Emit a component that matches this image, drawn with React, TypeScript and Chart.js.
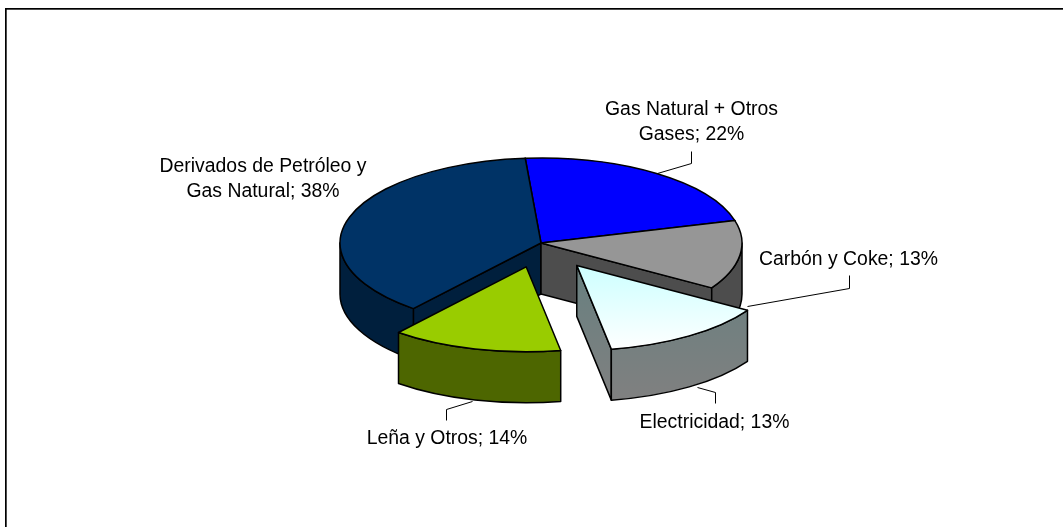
import React, { useEffect, useRef } from "react";
import { Chart, registerables } from "chart.js";

Chart.register(...registerables);

const categories = ["Gas Natural + Otros Gases", "Carbón y Coke", "Electricidad", "Leña y Otros", "Derivados de Petróleo y Gas Natural"];
const shares = [22, 13.1, 13.4, 13.7, 37.8];
const shownPercent = [22, 13, 13, 14, 38];
const topColors = ["#0000ff", "#969696", "#ccffff", "#99cc00", "#003366"];
const wallColors = ["#000080", "#4d4d4d", "#6b8080", "#4d6600", "#001f3d"];
const explode = [0, 0, 0.318, 0.29, 0];
const paintOrder = [0, 4, 1, 3, 2];

const PIE = { cx: 541, cy: 243, rx: 201, ry: 85, depth: 51 };
const FONT = '19.4px "Liberation Sans", Arial, sans-serif';
const LINE_H = 25.5;
const WRAP = 215;

const labelAnchors = [
  { x: 691.5, y: 109.5 },
  { x: 848.5, y: 259.5 },
  { x: 714.5, y: 422.5 },
  { x: 447, y: 438.5 },
  { x: 263, y: 166.5 },
];
const leaders: number[][][] = [
  [[691, 151], [691, 163], [657, 173]],
  [[849, 275], [849, 288], [747, 306]],
  [[715, 403], [715, 392], [697, 387]],
  [[446, 420], [446, 409], [472, 401]],
];

function wrapText(ctx: CanvasRenderingContext2D, text: string) {
  const lines: string[] = [];
  let cur = "";
  for (const w of text.split(" ")) {
    const t = cur ? cur + " " + w : w;
    if (ctx.measureText(t).width > WRAP && cur) {
      lines.push(cur);
      cur = w;
    } else cur = t;
  }
  lines.push(cur);
  return lines;
}

const pie3d = {
  id: "pie3d",
  beforeDatasetsDraw(chart: any) {
    const ctx: CanvasRenderingContext2D = chart.ctx;
    const arcs = chart.getDatasetMeta(0).data;
    const { cx, cy, rx, ry, depth } = PIE;

    ctx.fillStyle = "#000";
    ctx.fillRect(5, 8, 1058, 1.7);
    ctx.fillRect(5, 8, 1.7, 519);

    ctx.lineJoin = "round";
    for (const i of paintOrder) {
      const el = arcs[i];
      const a = el.startAngle;
      const b = el.endAngle;
      const mid = (a + b) / 2;
      const x0 = cx + Math.cos(mid) * explode[i] * rx;
      const y0 = cy + Math.sin(mid) * explode[i] * ry;
      const px = (t: number) => x0 + Math.cos(t) * rx;
      const py = (t: number) => y0 + Math.sin(t) * ry;

      let wall: any = wallColors[i];
      if (i === 2) {
        const g = ctx.createLinearGradient(0, y0 + 20, 0, y0 + 135);
        g.addColorStop(0, "#6b8080");
        g.addColorStop(1, "#808080");
        wall = g;
      }
      ctx.fillStyle = wall;
      ctx.strokeStyle = "#000";
      ctx.lineWidth = 1.5;

      // cut faces that look towards the viewer
      for (const [edge, normal] of [[a, a - Math.PI / 2], [b, b + Math.PI / 2]]) {
        if (Math.sin(normal) <= 0) continue;
        ctx.beginPath();
        ctx.moveTo(x0, y0);
        ctx.lineTo(px(edge), py(edge));
        ctx.lineTo(px(edge), py(edge) + depth);
        ctx.lineTo(x0, y0 + depth);
        ctx.closePath();
        ctx.fill();
        ctx.stroke();
      }

      // outer wall: only the part of the rim on the near side
      for (const k of [0, 2]) {
        const s = Math.max(a, k * Math.PI);
        const e = Math.min(b, k * Math.PI + Math.PI);
        if (e <= s) continue;
        ctx.beginPath();
        ctx.ellipse(x0, y0, rx, ry, 0, s, e);
        ctx.ellipse(x0, y0 + depth, rx, ry, 0, e, s, true);
        ctx.closePath();
        ctx.fill();
        ctx.stroke();
      }

      // top face: the library's own arc element, flattened into the ellipse
      ctx.save();
      ctx.translate(x0, y0);
      ctx.scale(rx / el.outerRadius, ry / el.outerRadius);
      ctx.translate(-el.x, -el.y);
      el.draw(ctx);
      ctx.restore();

      ctx.beginPath();
      ctx.moveTo(x0, y0);
      ctx.ellipse(x0, y0, rx, ry, 0, a, b);
      ctx.closePath();
      ctx.stroke();
    }

    // leader lines
    ctx.strokeStyle = "#000";
    ctx.lineWidth = 1;
    for (const pts of leaders) {
      ctx.beginPath();
      pts.forEach(([x, y], n) => (n ? ctx.lineTo(x + 0.5, y + 0.5) : ctx.moveTo(x + 0.5, y + 0.5)));
      ctx.stroke();
    }

    // labels
    ctx.fillStyle = "#000";
    ctx.font = FONT;
    ctx.textAlign = "center";
    ctx.textBaseline = "middle";
    categories.forEach((name, i) => {
      const lines = wrapText(ctx, `${name}; ${shownPercent[i]}%`);
      lines.forEach((line, n) => ctx.fillText(line, labelAnchors[i].x, labelAnchors[i].y + n * LINE_H));
    });
    return false;
  },
};

export default function App() {
  const ref = useRef<HTMLCanvasElement>(null);
  useEffect(() => {
    const chart = new Chart(ref.current!, {
      type: "pie",
      data: {
        labels: categories,
        datasets: [
          {
            data: shares,
            borderWidth: 0,
            backgroundColor: (c: any) => {
              if (c.dataIndex !== 2) return topColors[c.dataIndex];
              const h = c.chart.height;
              const g = c.chart.ctx.createLinearGradient(0, h / 2, 0, h);
              g.addColorStop(0, "#ccffff");
              g.addColorStop(1, "#ffffff");
              return g;
            },
          },
        ],
      },
      options: {
        responsive: false,
        animation: false,
        rotation: -4.5,
        layout: { padding: 0 },
        plugins: { legend: { display: false }, tooltip: { enabled: false }, title: { display: false } },
      },
      plugins: [pie3d],
    } as any);
    return () => chart.destroy();
  }, []);
  return (
    <div style={{ position: "absolute", left: 0, top: 0, width: 1063, height: 527, background: "#fff" }}>
      <canvas ref={ref} width={1063} height={527} style={{ display: "block" }} />
    </div>
  );
}
